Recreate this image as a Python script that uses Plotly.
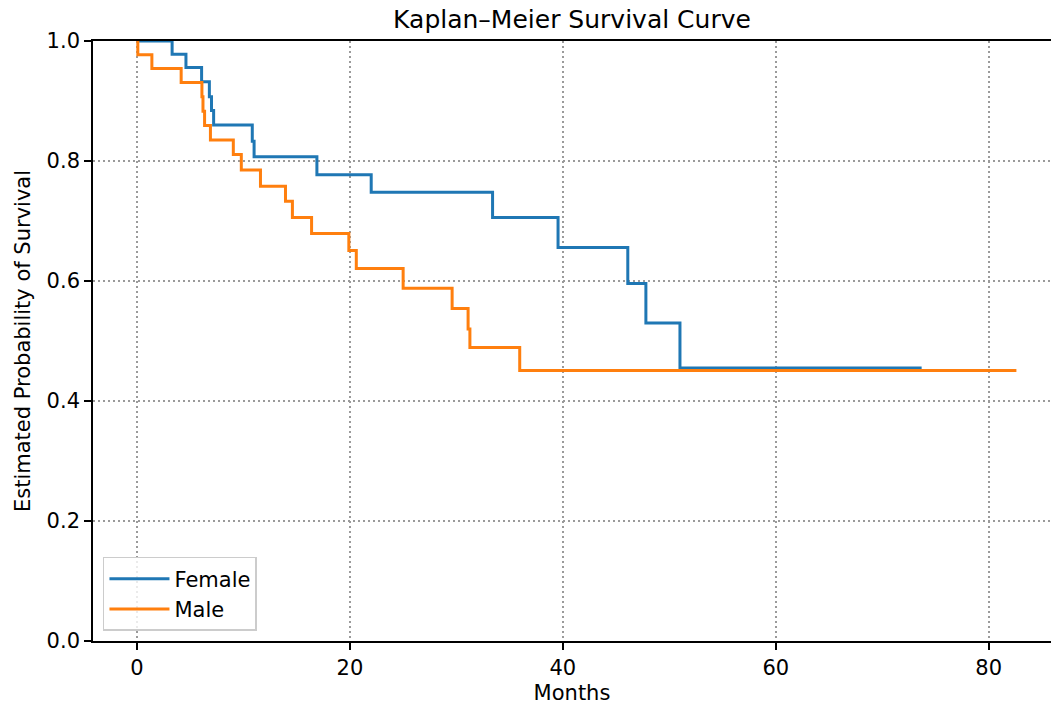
import plotly.graph_objects as go

female_t = [0, 3.3, 4.6, 6.07, 6.8, 7.0, 7.2, 10.83, 11.0, 16.9, 22.0, 33.4, 39.55, 46.1, 47.8, 51.0, 73.7]
female_s = [1.0, 0.978, 0.956, 0.932, 0.907, 0.884, 0.860, 0.833, 0.807, 0.777, 0.748, 0.706, 0.656, 0.596, 0.530, 0.455, 0.455]

male_t = [0, 0.08, 1.4, 4.15, 6.1, 6.2, 6.35, 6.9, 9.05, 9.8, 11.6, 13.95, 14.6, 16.4, 19.9, 20.6, 25.0, 29.6,
          31.1, 31.27, 35.95, 82.6]
male_s = [1.0, 0.977, 0.954, 0.931, 0.907, 0.883, 0.859, 0.835, 0.811, 0.785, 0.758, 0.733, 0.706, 0.679, 0.651,
          0.621, 0.588, 0.554, 0.520, 0.489, 0.451, 0.451]

x_ticks = [0, 20, 40, 60, 80]
y_ticks = [0.0, 0.2, 0.4, 0.6, 0.8, 1.0]

FONT = "DejaVu Sans"
FS = 21

fig = go.Figure()
fig.add_trace(go.Scatter(x=female_t, y=female_s, mode="lines", name="Female",
                         line=dict(color="#1f77b4", width=3, shape="hv")))
fig.add_trace(go.Scatter(x=male_t, y=male_s, mode="lines", name="Male",
                         line=dict(color="#ff7f0e", width=3, shape="hv")))

axis_common = dict(
    showline=True, linecolor="black", linewidth=1.6,
    ticks="outside", ticklen=7, tickwidth=1.6, tickcolor="black",
    showgrid=True, gridcolor="#9a9a9a", gridwidth=1.6, griddash="2px,3px",
    zeroline=False,
    tickfont=dict(family=FONT, size=FS, color="black"),
)

fig.update_layout(
    width=1051, height=706,
    margin=dict(l=93, r=0, t=41, b=65),
    paper_bgcolor="white", plot_bgcolor="white",
    font=dict(family=FONT, color="black"),
    title=dict(text="Kaplan–Meier Survival Curve", x=0.5, xref="paper", xanchor="center",
               y=1 - 19 / 706, yref="container", yanchor="middle",
               font=dict(family=FONT, size=25, color="black")),
    xaxis=dict(range=[-4.13, 85.85], tickvals=x_ticks, ticktext=[str(v) for v in x_ticks],
               mirror=True,
               title=dict(text="Months", font=dict(family=FONT, size=FS, color="black"), standoff=6),
               **axis_common),
    yaxis=dict(range=[0, 1], tickvals=y_ticks, ticktext=[f"{v:.1f}" for v in y_ticks],
               title=dict(text="Estimated Probability of Survival",
                          font=dict(family=FONT, size=FS, color="black"), standoff=10),
               **axis_common),
    legend=dict(x=0.0104, y=0.0167, xanchor="left", yanchor="bottom",
                bgcolor="rgba(255,255,255,0.8)", bordercolor="#cccccc", borderwidth=1.5,
                font=dict(family=FONT, size=FS, color="black"),
                itemwidth=60, tracegroupgap=2),
    showlegend=True,
)

fig.write_html("out.html", config={"displayModeBar": False},
               post_script="document.body.style.margin='0';document.body.style.overflow='hidden';")
